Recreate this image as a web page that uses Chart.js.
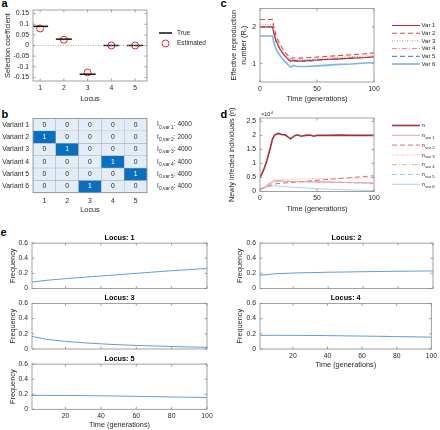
<!DOCTYPE html>
<html>
<head>
<meta charset="utf-8">
<script src="https://cdn.jsdelivr.net/npm/chart.js@4.4.1/dist/chart.umd.min.js"></script>
<style>
  html, body { margin: 0; padding: 0; background: #fff; }
  #fig { position: relative; width: 440px; height: 430px; overflow: hidden; font-family: 'Liberation Sans', Arial, sans-serif; }
  #fig canvas { position: absolute; }
  .lbl { position: absolute; font-weight: bold; font-size: 11px; line-height: 1; color: #000; }
</style>
</head>
<body>
<div id="fig">
  <div class="lbl" style="left:1.5px;top:-2px">a</div>
  <div class="lbl" style="left:1.5px;top:109px">b</div>
  <div class="lbl" style="left:220.5px;top:-2px">c</div>
  <div class="lbl" style="left:220.5px;top:109px">d</div>
  <div class="lbl" style="left:0.5px;top:227px">e</div>
</div>
<script>
// ---- data ----
// a: selection coefficients per locus
const loci = [1, 2, 3, 4, 5];
const selTrue = [0.09, 0.03, -0.135, 0, 0];
const selEst = [0.08, 0.027, -0.127, 0, 0];
const selTicks = [-0.15, -0.1, -0.05, 0, 0.05, 0.1, 0.15];

// b: mutation matrix (variant x locus) and initial infected
const variants = ['Variant 1', 'Variant 2', 'Variant 3', 'Variant 4', 'Variant 5', 'Variant 6'];
const mutMatrix = [
  [0, 0, 0, 0, 0],
  [1, 0, 0, 0, 0],
  [0, 1, 0, 0, 0],
  [0, 0, 0, 1, 0],
  [0, 0, 0, 0, 1],
  [0, 0, 1, 0, 0]
];
const iniInfected = [4000, 2000, 4000, 4000, 4000, 4000];

// c: effective reproduction number
const rtTimes = [0, 11, 12, 14, 17, 20, 23, 27, 29, 32, 35, 40, 45, 50, 60, 70, 80, 90, 100];
const rtVar1 = [2.0, 2.0, 1.85, 1.62, 1.42, 1.28, 1.17, 1.06, 1.09, 1.08, 1.07, 1.08, 1.09, 1.10, 1.12, 1.13, 1.15, 1.16, 1.18];
const rtVar2 = [2.2, 2.2, 2.03, 1.78, 1.55, 1.40, 1.27, 1.14, 1.16, 1.15, 1.15, 1.16, 1.17, 1.18, 1.20, 1.22, 1.24, 1.26, 1.29];
const rtVar3 = [2.07, 2.07, 1.92, 1.68, 1.47, 1.33, 1.21, 1.10, 1.12, 1.11, 1.10, 1.11, 1.12, 1.13, 1.15, 1.17, 1.19, 1.20, 1.22];
const rtVar4 = [2.0, 2.0, 1.85, 1.62, 1.42, 1.28, 1.17, 1.06, 1.08, 1.07, 1.06, 1.07, 1.08, 1.09, 1.11, 1.13, 1.15, 1.17, 1.19];
const rtVar5 = [2.0, 2.0, 1.84, 1.61, 1.41, 1.27, 1.16, 1.04, 1.07, 1.06, 1.05, 1.06, 1.07, 1.09, 1.11, 1.13, 1.15, 1.16, 1.18];
const rtVar6 = [1.75, 1.75, 1.60, 1.40, 1.24, 1.12, 1.02, 0.90, 0.95, 0.93, 0.92, 0.92, 0.93, 0.94, 0.96, 0.98, 0.99, 1.01, 1.03];
const rtLabels = ['Var 1', 'Var 2', 'Var 3', 'Var 4', 'Var 5', 'Var 6'];

// d: newly infected individuals (x10^4)
const nTimes = [0, 3, 6, 9, 11, 13, 16, 19, 22, 25, 27, 30, 33, 36, 40, 44, 47, 50, 60, 70, 80, 90, 100];
const nTotal = [0.5, 0.75, 1.1, 1.55, 1.88, 2.02, 2.07, 2.03, 2.02, 1.93, 1.88, 1.98, 2.02, 1.97, 2.0, 2.01, 1.97, 2.0, 2.0, 2.01, 2.0, 2.0, 2.0];
const nVarTimes = [0, 12, 15, 30, 50, 75, 100];
const nVar1 = [0.05, 0.38, 0.38, 0.35, 0.34, 0.32, 0.30];
const nVar2 = [0.08, 0.26, 0.28, 0.33, 0.40, 0.48, 0.56];
const nVar3 = [0.07, 0.40, 0.42, 0.44, 0.46, 0.47, 0.49];
const nVar4 = [0.06, 0.36, 0.38, 0.36, 0.35, 0.33, 0.30];
const nVar5 = [0.07, 0.34, 0.36, 0.35, 0.34, 0.32, 0.29];
const nVar6 = [0.10, 0.21, 0.20, 0.15, 0.10, 0.06, 0.03];

// e: allele frequency per locus
const freqTimes = [1, 10, 20, 30, 40, 50, 60, 70, 80, 90, 100];
const freqLocus1 = [0.085, 0.11, 0.13, 0.148, 0.165, 0.183, 0.2, 0.218, 0.235, 0.25, 0.265];
const freqLocus2 = [0.175, 0.195, 0.205, 0.21, 0.215, 0.218, 0.222, 0.225, 0.228, 0.23, 0.232];
const freqLocus3 = [0.165, 0.125, 0.1, 0.082, 0.068, 0.056, 0.047, 0.04, 0.033, 0.027, 0.022];
const freqLocus4 = [0.18, 0.18, 0.18, 0.178, 0.176, 0.173, 0.17, 0.167, 0.163, 0.16, 0.156];
const freqLocus5 = [0.185, 0.185, 0.184, 0.182, 0.179, 0.176, 0.172, 0.168, 0.164, 0.16, 0.156];

const timeTicks = [0, 50, 100];
const rtTicks = [1, 2];
const nTicks = [0, 0.5, 1, 1.5, 2, 2.5];
const freqXTicks = [20, 40, 60, 80, 100];
const freqYTicks = [0, 0.2, 0.4, 0.6];

// ---- setup ----
const FAM = "'Liberation Sans', Arial, Helvetica, sans-serif";
const TXT = '#262626';
const TSIZE = 7.3;
Chart.defaults.font.family = FAM;
Chart.defaults.font.size = 6.8;
Chart.defaults.color = TXT;
Chart.defaults.animation = false;
Chart.defaults.events = [];
Chart.defaults.plugins.legend.display = false;
Chart.defaults.plugins.tooltip.enabled = false;

function mount(box) {
  const c = document.createElement('canvas');
  c.width = box[2] - box[0];
  c.height = box[3] - box[1];
  c.style.left = box[0] + 'px';
  c.style.top = box[1] + 'px';
  c.style.width = c.width + 'px';
  c.style.height = c.height + 'px';
  document.getElementById('fig').appendChild(c);
  return c;
}

function pts(xs, ys) { return xs.map((x, i) => ({ x: x, y: ys[i] })); }

// axis with fixed box size and explicit tick values
function axis(pos, size, min, max, ticks, fmt, title, extra) {
  const left = pos === 'left';
  const ax = {
    type: 'linear', position: pos, min: min, max: max,
    grid: { display: false, drawTicks: false },
    border: { display: false },
    afterBuildTicks: a => { a.ticks = ticks.map(v => ({ value: v })); },
    afterFit: a => { if (left) a.width = size; else a.height = size; },
    ticks: { padding: left ? 4 : 3, autoSkip: false, maxRotation: 0, callback: fmt },
    title: { display: false }
  };
  if (title) {
    ax.title = {
      display: true, text: title.text,
      font: { size: TSIZE, lineHeight: title.lh || 1.2 },
      padding: left ? { top: title.pad, bottom: 0 } : { top: 0, bottom: title.pad }
    };
  }
  return Object.assign(ax, extra || {});
}

// MATLAB-like box with inward ticks
const boxPlugin = {
  id: 'mbox',
  afterDatasetsDraw(chart, args, o) {
    const { ctx, chartArea: a } = chart;
    ctx.save();
    ctx.strokeStyle = '#8a8a8a';
    ctx.lineWidth = 0.8;
    ctx.strokeRect(a.left, a.top, a.width, a.height);
    if (!o.noTicks) {
      const len = 2.5;
      const sx = chart.scales.x, sy = chart.scales.y;
      ctx.beginPath();
      sx.ticks.forEach(t => {
        const p = sx.getPixelForValue(t.value);
        ctx.moveTo(p, a.bottom); ctx.lineTo(p, a.bottom - len);
        ctx.moveTo(p, a.top); ctx.lineTo(p, a.top + len);
      });
      sy.ticks.forEach(t => {
        const p = sy.getPixelForValue(t.value);
        ctx.moveTo(a.left, p); ctx.lineTo(a.left + len, p);
        ctx.moveTo(a.right, p); ctx.lineTo(a.right - len, p);
      });
      ctx.stroke();
    }
    ctx.restore();
  }
};

// legend drawn from dataset styles, to the right of the plot
const sideLegend = {
  id: 'sideLegend',
  afterDraw(chart, args, o) {
    if (!o.items) return;
    const ctx = chart.ctx;
    ctx.save();
    o.items.forEach((it, k) => {
      const ds = chart.data.datasets[it.ds];
      const y = o.y + k * o.dy;
      ctx.strokeStyle = ds.borderColor;
      ctx.lineWidth = ds.borderWidth || 1;
      if (it.marker === 'circle') {
        ctx.beginPath();
        ctx.arc(o.x + o.len / 2, y, ds.pointRadius, 0, Math.PI * 2);
        ctx.stroke();
      } else {
        ctx.setLineDash(ds.borderDash || []);
        ctx.beginPath();
        ctx.moveTo(o.x, y); ctx.lineTo(o.x + o.len, y);
        ctx.stroke();
        ctx.setLineDash([]);
      }
      ctx.fillStyle = TXT;
      ctx.textAlign = 'left';
      ctx.textBaseline = 'middle';
      ctx.font = o.size + 'px ' + FAM;
      const tx = o.x + o.len + o.gap;
      ctx.fillText(it.text, tx, y);
      if (it.sub) {
        const w = ctx.measureText(it.text).width;
        ctx.font = (o.size * 0.72) + 'px ' + FAM;
        ctx.fillText(it.sub, tx + w + 0.3, y + o.size * 0.4);
      }
    });
    ctx.restore();
  }
};

function fixed(box, plot) {
  return { top: plot[1] - box[1], right: box[2] - plot[2], left: 0, bottom: 0,
           L: plot[0] - box[0], B: box[3] - plot[3] };
}

// ---- a ----
(function () {
  const box = [0, 0, 220, 112], plot = [33, 10, 147, 81];
  const f = fixed(box, plot);
  new Chart(mount(box), {
    type: 'scatter',
    data: {
      datasets: [
        { data: [{ x: 0.7, y: 0 }, { x: 5.5, y: 0 }], showLine: true, pointRadius: 0,
          borderColor: '#9a9a9a', borderWidth: 0.8, borderDash: [1, 1.5] },
        { label: 'True', data: pts(loci, selTrue), pointStyle: 'line', pointRadius: 8,
          borderColor: '#111', borderWidth: 1.5 },
        { label: 'Estimated', data: pts(loci, selEst), pointStyle: 'circle', pointRadius: 3.5,
          borderColor: '#e3262b', backgroundColor: 'rgba(0,0,0,0)', borderWidth: 1 }
      ]
    },
    options: {
      responsive: false,
      layout: { padding: { top: f.top, right: f.right, left: 0, bottom: 0 } },
      scales: {
        x: axis('bottom', f.B, 0.7, 5.5, loci, v => v, { text: 'Locus', pad: 9 }),
        y: axis('left', f.L, -0.167, 0.167, selTicks, v => String(+v.toFixed(2)), { text: 'Selection coefficient', pad: 3.6 })
      },
      plugins: {
        sideLegend: { x: 159, len: 13, gap: 5, y: 33, dy: 10.5, size: 6.5,
          items: [{ ds: 1, text: 'True' }, { ds: 2, text: 'Estimated', marker: 'circle' }] }
      }
    },
    plugins: [boxPlugin, sideLegend]
  });
})();

// ---- b ----
(function () {
  const box = [0, 106, 220, 220], plot = [33, 118.5, 147, 192.7];
  const f = fixed(box, plot);
  const cellText = {
    id: 'cellText',
    afterDatasetsDraw(chart) {
      const ctx = chart.ctx;
      ctx.save();
      ctx.textAlign = 'center';
      ctx.textBaseline = 'middle';
      ctx.font = '6.8px ' + FAM;
      chart.data.datasets.forEach((ds, r) => {
        chart.getDatasetMeta(r).data.forEach((bar, c) => {
          const v = mutMatrix[r][c];
          const p = bar.getProps(['x', 'y', 'base'], true);
          ctx.fillStyle = v ? '#ffffff' : TXT;
          ctx.fillText(String(v), p.x, (p.y + p.base) / 2);
        });
      });
      const ys = chart.scales.y;
      ctx.textAlign = 'left';
      variants.forEach((v, r) => {
        const y = ys.getPixelForValue(r + 0.5);
        let x = 157;
        ctx.fillStyle = TXT;
        ctx.font = '6.5px ' + FAM;
        ctx.fillText('I', x, y);
        x += ctx.measureText('I').width + 0.3;
        ctx.font = '4.8px ' + FAM;
        const sub = '0,var ' + (r + 1);
        ctx.fillText(sub, x, y + 2.6);
        x += ctx.measureText(sub).width;
        ctx.font = '6.5px ' + FAM;
        ctx.fillText(': ' + iniInfected[r], x, y);
      });
      ctx.restore();
    }
  };
  new Chart(mount(box), {
    type: 'bar',
    data: {
      labels: loci.map(String),
      datasets: variants.map((v, r) => ({
        label: v,
        data: loci.map(() => 1),
        backgroundColor: mutMatrix[r].map(c => c ? '#0a6fbe' : '#e2edf8'),
        borderColor: '#a9a9a9', borderWidth: 0.5, borderSkipped: false,
        barPercentage: 1, categoryPercentage: 1, stack: 's'
      }))
    },
    options: {
      responsive: false,
      layout: { padding: { top: f.top, right: f.right, left: 0, bottom: 0 } },
      scales: {
        x: {
          type: 'category', stacked: true, position: 'bottom',
          grid: { display: false, drawTicks: false }, border: { display: false },
          afterFit: a => { a.height = f.B; },
          ticks: { padding: 4 },
          title: { display: true, text: 'Locus', font: { size: TSIZE }, padding: { top: 0, bottom: 5.6 } }
        },
        y: axis('left', f.L, 0, 6, variants.map((v, i) => i + 0.5), v => variants[Math.floor(v)], null,
          { stacked: true, reverse: true })
      },
      plugins: { mbox: { noTicks: true } }
    },
    plugins: [cellText, boxPlugin]
  });
})();

// ---- c ----
(function () {
  const box = [220, 0, 440, 112], plot = [260, 8.5, 374, 82];
  const f = fixed(box, plot);
  const series = [rtVar1, rtVar2, rtVar3, rtVar4, rtVar5, rtVar6];
  const colors = ['#a8323e', '#e0484a', '#e87a7a', '#f0897a', '#3f72b5', '#7db4e2'];
  const widths = [1.1, 1.1, 1, 1, 1, 1.6];
  const dashes = [[], [5, 3], [1, 1.5], [5, 2, 1, 2], [5, 3], []];
  new Chart(mount(box), {
    type: 'scatter',
    data: {
      datasets: series.map((s, i) => ({
        label: rtLabels[i], data: pts(rtTimes, s), showLine: true, pointRadius: 0,
        borderColor: colors[i], borderWidth: widths[i], borderDash: dashes[i]
      }))
    },
    options: {
      responsive: false,
      layout: { padding: { top: f.top, right: f.right, left: 0, bottom: 0 } },
      scales: {
        x: axis('bottom', f.B, 0, 100, timeTicks, v => v, { text: 'Time (generations)', pad: 8.6 }),
        y: axis('left', f.L, 0.5, 2.5, rtTicks, v => v,
          { text: ['Effective reproduction', 'number (R\u209C)'], pad: 9, lh: 1.37 })
      },
      plugins: {
        sideLegend: { x: 172, len: 28, gap: 1.5, y: 25.5, dy: 7.7, size: 6,
          items: rtLabels.map((t, i) => ({ ds: i, text: t })) }
      }
    },
    plugins: [boxPlugin, sideLegend]
  });
})();

// ---- d ----
(function () {
  const box = [220, 106, 440, 222], plot = [260, 118, 374, 191.5];
  const f = fixed(box, plot);
  const series = [nVar1, nVar2, nVar3, nVar4, nVar5, nVar6];
  const colors = ['#e9a3aa', '#e86a66', '#f2a3a3', '#f4a595', '#a6c6e8', '#acd2f0'];
  const dashes = [[], [5, 3], [1, 1.5], [5, 2, 1, 2], [5, 3], []];
  const expo = {
    id: 'expo',
    afterDraw(chart) {
      const ctx = chart.ctx, a = chart.chartArea;
      ctx.save();
      ctx.fillStyle = TXT;
      ctx.textBaseline = 'alphabetic';
      ctx.font = '5.5px ' + FAM;
      ctx.fillText('\u00D710', a.left + 1, a.top - 2);
      const w = ctx.measureText('\u00D710').width;
      ctx.font = '4px ' + FAM;
      ctx.fillText('4', a.left + 1 + w + 0.3, a.top - 4.5);
      ctx.restore();
    }
  };
  const datasets = [{
    label: 'n', data: pts(nTimes, nTotal), showLine: true, pointRadius: 0,
    borderColor: '#a22f3a', borderWidth: 1.6
  }].concat(series.map((s, i) => ({
    label: 'n var ' + (i + 1), data: pts(nVarTimes, s), showLine: true, pointRadius: 0,
    borderColor: colors[i], borderWidth: 1, borderDash: dashes[i]
  })));
  new Chart(mount(box), {
    type: 'scatter',
    data: { datasets: datasets },
    options: {
      responsive: false,
      layout: { padding: { top: f.top, right: f.right, left: 0, bottom: 0 } },
      scales: {
        x: axis('bottom', f.B, 0, 100, timeTicks, v => v, { text: 'Time (generations)', pad: 8.6 }),
        y: axis('left', f.L, 0, 2.62, nTicks, v => v, { text: 'Newly infected individuals (n)', pad: 7.6 })
      },
      plugins: {
        sideLegend: { x: 172, len: 28, gap: 1.5, y: 19.5, dy: 9.8, size: 6,
          items: datasets.map((d, i) => ({ ds: i, text: 'n', sub: i ? 'var ' + i : '' })) }
      }
    },
    plugins: [boxPlugin, sideLegend, expo]
  });
})();

// ---- e ----
(function () {
  const series = [freqLocus1, freqLocus2, freqLocus3, freqLocus4, freqLocus5];
  const cells = [
    { box: [0, 232, 220, 298],   plot: [32, 243.1, 207, 288.5],  titleY: 238.3, showX: false, yt: 9.1 },
    { box: [220, 232, 440, 298], plot: [260, 243.1, 433, 288.5], titleY: 238.3, showX: false, yt: 15.6 },
    { box: [0, 292, 220, 358],   plot: [32, 303.4, 207, 349],    titleY: 298.3, showX: false, yt: 9.1 },
    { box: [220, 292, 440, 372], plot: [260, 303.4, 433, 349],   titleY: 298.3, showX: true,  yt: 15.6, xt: 2.6 },
    { box: [0, 353, 220, 430],   plot: [32, 364.1, 207, 409.3],  titleY: 359,   showX: true,  yt: 9.1, xt: 0.6 }
  ];
  const LH = TSIZE * 1.2;
  cells.forEach((c, i) => {
    const f = fixed(c.box, c.plot);
    const tTop = c.titleY - c.box[1] - LH / 2;
    const tBot = f.top - tTop - LH;
    const xAx = axis('bottom', f.B, 1, 100, freqXTicks, v => v,
      c.showX ? { text: 'Time (generations)', pad: c.xt } : null);
    if (!c.showX) xAx.ticks.display = false;
    new Chart(mount(c.box), {
      type: 'scatter',
      data: { datasets: [{ data: pts(freqTimes, series[i]), showLine: true, pointRadius: 0,
        borderColor: '#5a9fd8', borderWidth: 1 }] },
      options: {
        responsive: false,
        layout: { padding: { top: 0, right: f.right, left: 0, bottom: 0 } },
        scales: {
          x: xAx,
          y: axis('left', f.L, 0, 0.6, freqYTicks, v => v, { text: 'Frequency', pad: c.yt })
        },
        plugins: {
          title: { display: true, text: 'Locus: ' + loci[i], fullSize: false,
            font: { size: TSIZE, weight: 'bold', lineHeight: 1.2 }, color: '#000',
            padding: { top: tTop, bottom: Math.max(0, tBot) } }
        }
      },
      plugins: [boxPlugin]
    });
  });
})();
</script>
</body>
</html>
